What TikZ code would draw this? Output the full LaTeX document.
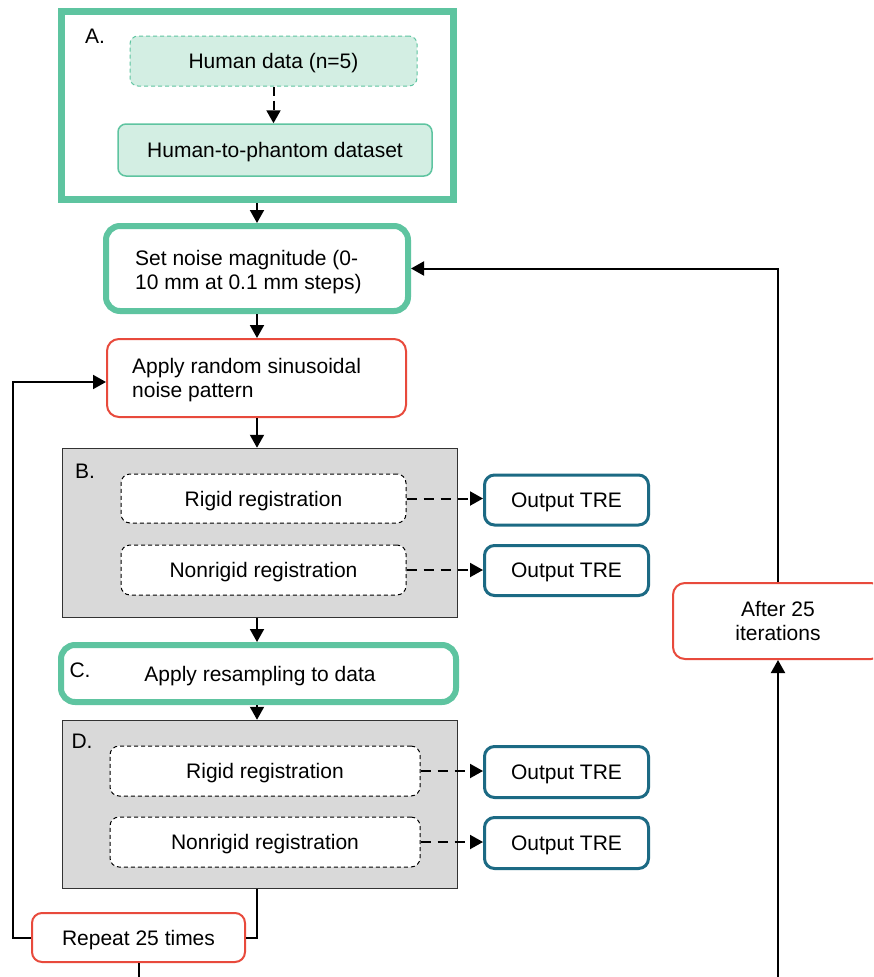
\documentclass[tikz,border=0pt]{standalone}
\usepackage{fontspec}
\setmainfont{Liberation Sans}
\usetikzlibrary{arrows.meta,calc}
\definecolor{cgreen}{HTML}{5EC4A0}
\definecolor{lgreen}{HTML}{D3EEE3}
\definecolor{cred}{HTML}{E84A3C}
\definecolor{cteal}{HTML}{1C6A84}
\definecolor{cgray}{HTML}{D9D9D9}
\definecolor{dgray}{HTML}{333333}
\tikzset{
  every node/.style={font=\fontsize{21}{24}\selectfont, inner sep=0pt, text depth=0pt},
  bx/.style={draw, rectangle, anchor=center},
  thickgreen/.style={bx, draw=cgreen, line width=6pt, rounded corners=14pt, fill=white},
  softgreen/.style={bx, draw=cgreen, line width=1.5pt, rounded corners=8pt, fill=lgreen},
  redbox/.style={bx, draw=cred, line width=2pt, rounded corners=12pt, fill=white},
  graybox/.style={bx, draw=dgray, line width=1.5pt, fill=cgray},
  regbox/.style={bx, draw=black, line width=1pt, dash pattern=on 4pt off 3pt, rounded corners=9pt, fill=white},
  outbox/.style={bx, draw=cteal, line width=3pt, rounded corners=10pt, fill=white},
  conn/.style={draw=black, line width=2pt},
  arr/.style={conn, -{Triangle[length=13pt,width=14pt]}},
  darr/.style={arr, dash pattern=on 10pt off 7pt},
  lbl/.style={anchor=center},
  mltext/.style={anchor=west, align=left, text depth={}}
}
\begin{document}
\begin{tikzpicture}[x=1pt,y=-1pt]
\clip (0,0) rectangle (873,977);
\fill[white] (0,0) rectangle (873,977);

% Section A
\node[bx, draw=cgreen, line width=7pt, fill=white, minimum width=392pt, minimum height=188pt] (A) at (257.5,105.5) {};
\node[lbl] (Alab) at (95,36) {A.};
\node[softgreen, dash pattern=on 4pt off 3pt, line width=1pt, minimum width=287pt, minimum height=50pt] (hum) at (273.5,61) {Human data (n=5)};
\node[softgreen, minimum width=314pt, minimum height=52pt] (h2p) at (275,150) {Human-to-phantom dataset};
\draw[arr, dash pattern=on 9pt off 5pt] (hum.south) -- (hum.south |- h2p.north);

% Noise magnitude
\node[thickgreen, minimum width=302pt, minimum height=85pt] (noise) at (257,268.5) {};
\node[mltext] (noiseT) at (135,272) {Set noise magnitude (0-\\10 mm at 0.1 mm steps)};
\node[redbox, minimum width=299pt, minimum height=78pt] (rand) at (256.5,378) {};
\node[mltext] (randT) at (132,380.5) {Apply random sinusoidal\\noise pattern};

% Section B
\node[graybox, minimum width=395pt, minimum height=169pt] (B) at (260,533) {};
\node[lbl] (Blab) at (85,471) {B.};
\node[regbox, minimum width=285pt, minimum height=49pt] (rigB) at (263.5,498.5) {Rigid registration};
\node[regbox, minimum width=285pt, minimum height=50pt] (nrB) at (263.5,570) {Nonrigid registration};
\node[outbox, minimum width=164pt, minimum height=50pt] (outB1) at (566.5,500) {Output TRE};
\node[outbox, minimum width=164pt, minimum height=50pt] (outB2) at (566.5,570.5) {Output TRE};

% Section C
\node[thickgreen, minimum width=395pt, minimum height=57pt] (C) at (258.5,673.5) {};
\node[lbl] (Clab) at (80,670) {C.};
\node[lbl] (Ctext) at (260,674) {Apply resampling to data};

% Section D
\node[graybox, minimum width=395pt, minimum height=168pt] (D) at (260,804.5) {};
\node[lbl] (Dlab) at (82,741) {D.};
\node[regbox, minimum width=310pt, minimum height=50pt] (rigD) at (265,771) {Rigid registration};
\node[regbox, minimum width=310pt, minimum height=50pt] (nrD) at (265,842) {Nonrigid registration};
\node[outbox, minimum width=164pt, minimum height=51pt] (outD1) at (566.5,772) {Output TRE};
\node[outbox, minimum width=164pt, minimum height=51pt] (outD2) at (566.5,843) {Output TRE};

% Loop boxes
\node[redbox, rounded corners=10pt, minimum width=213pt, minimum height=49pt] (rep) at (138.5,937.5) {Repeat 25 times};
\node[redbox, minimum width=210pt, minimum height=76pt, align=center] (after) at (778,621) {After 25\\iterations};

\coordinate (lp) at (13,382);
\coordinate (bl) at (138,980);
\coordinate (br) at (778,980);

% Main flow
\draw[arr] (A.south -| noise.north) -- (noise.north);
\draw[arr] (noise.south) -- (noise.south |- rand.north);
\draw[arr] (rand.south -| noise.south) -- (noise.south |- B.north);
\draw[arr] (B.south -| noise.south) -- (noise.south |- C.north);
\draw[arr] (C.south -| noise.south) -- (noise.south |- D.north);

% Registration outputs
\draw[darr] (rigB.east) -- (rigB.east -| outB1.west);
\draw[darr] (nrB.east) -- (nrB.east -| outB2.west);
\draw[darr] (rigD.east) -- (rigD.east -| outD1.west);
\draw[darr] (nrD.east) -- (nrD.east -| outD2.west);

% Repeat loop
\draw[conn] (D.south -| noise.south) |- (rep.east);
\draw[arr] (rep.west) -| (lp) -- (lp -| rand.west);
\draw[conn] (rep.south) -- (rep.south |- bl);

% Outer loop
\draw[arr] (br) -- (after.south);
\draw[arr] (after.north) |- (noise.east);
\end{tikzpicture}
\end{document}
